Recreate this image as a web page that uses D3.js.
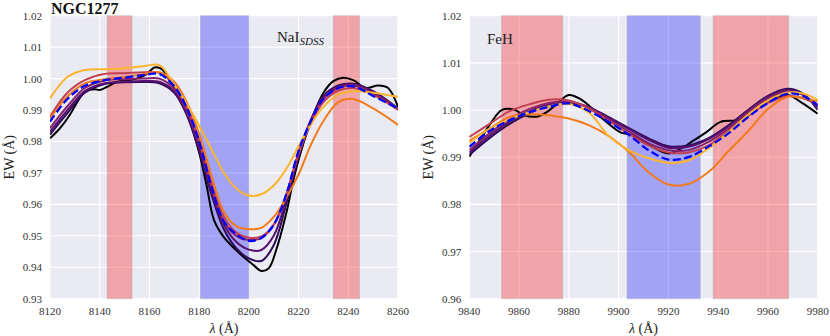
<!DOCTYPE html>
<html>
<head>
<meta charset="utf-8">
<script src="https://cdn.jsdelivr.net/npm/d3@7"></script>
<style>
  body { margin: 0; background: #fff; }
  text { font-family: "Liberation Serif", "DejaVu Serif", serif; }
</style>
</head>
<body>
<svg id="chart" width="830" height="336"></svg>
<script>
// ---- NaI (SDSS) panel ----
var naWave = [8120, 8127, 8134, 8142, 8150, 8158, 8164, 8170, 8175, 8180, 8185, 8190, 8195, 8200, 8205, 8210, 8215, 8220, 8225, 8230, 8236, 8242, 8250, 8260];
// models, darkest to lightest
var naModels = [
    [0.9822, 0.9890, 0.9955, 0.9983, 0.9988, 0.9989, 0.9985, 0.9955, 0.9885, 0.9770, 0.9630, 0.9520, 0.9460, 0.9428, 0.9420, 0.9470, 0.9600, 0.9750, 0.9868, 0.9945, 0.9978, 0.9984, 0.9960, 0.9905],
    [0.9831, 0.9900, 0.9960, 0.9985, 0.9990, 0.9992, 0.9990, 0.9960, 0.9890, 0.9780, 0.9640, 0.9535, 0.9480, 0.9456, 0.9455, 0.9500, 0.9615, 0.9760, 0.9870, 0.9942, 0.9975, 0.9982, 0.9958, 0.9905],
    [0.9842, 0.9912, 0.9970, 0.9994, 0.9998, 1.0000, 1.0000, 0.9968, 0.9898, 0.9792, 0.9652, 0.9545, 0.9500, 0.9487, 0.9493, 0.9535, 0.9630, 0.9765, 0.9865, 0.9935, 0.9970, 0.9978, 0.9952, 0.9905],
    [0.9879, 0.9955, 0.9995, 1.0015, 1.0017, 1.0020, 1.0018, 0.9980, 0.9910, 0.9805, 0.9668, 0.9560, 0.9510, 0.9494, 0.9498, 0.9535, 0.9628, 0.9760, 0.9858, 0.9925, 0.9962, 0.9970, 0.9948, 0.9900],
    [0.9873, 0.9943, 0.9985, 0.9998, 1.0005, 1.0015, 1.0020, 0.9990, 0.9925, 0.9825, 0.9690, 0.9575, 0.9530, 0.9521, 0.9525, 0.9560, 0.9620, 0.9695, 0.9790, 0.9865, 0.9925, 0.9935, 0.9905, 0.9853],
    [0.9937, 1.0005, 1.0027, 1.0030, 1.0033, 1.0040, 1.0043, 0.9980, 0.9920, 0.9850, 0.9775, 0.9700, 0.9650, 0.9628, 0.9632, 0.9660, 0.9712, 0.9785, 0.9855, 0.9910, 0.9950, 0.9960, 0.9955, 0.9942]
];
var naBest = [0.9863, 0.9935, 0.9977, 0.9995, 1.0003, 1.0012, 1.0015, 0.9975, 0.9908, 0.9800, 0.9655, 0.9545, 0.9505, 0.9484, 0.9493, 0.9535, 0.9630, 0.9770, 0.9865, 0.9935, 0.9970, 0.9975, 0.9945, 0.9905];
var naObsWave = [8120, 8124, 8128, 8131, 8134, 8138, 8140, 8143, 8147, 8152, 8156, 8159, 8162, 8165, 8168, 8172, 8176, 8180, 8183, 8186, 8190, 8196, 8202, 8205, 8208, 8211, 8215, 8218, 8222, 8226, 8230, 8234, 8238, 8242, 8247, 8252, 8256, 8260];
var naObs = [0.9810, 0.9842, 0.9885, 0.9926, 0.9958, 0.9966, 0.9964, 0.9974, 0.9990, 0.9995, 1.0003, 1.0015, 1.0035, 1.0030, 0.9995, 0.9945, 0.9870, 0.9765, 0.9660, 0.9550, 0.9495, 0.9446, 0.9406, 0.9388, 0.9397, 0.9455, 0.9570, 0.9680, 0.9795, 0.9885, 0.9955, 0.9992, 1.0003, 0.9995, 0.9970, 0.9978, 0.9970, 0.9910];
var naSide = [[8143, 8153], [8234, 8244.5]];
var naFeature = [[8180.5, 8200]];
var naTicksX = [8120, 8140, 8160, 8180, 8200, 8220, 8240, 8260];
var naTicksY = [0.93, 0.94, 0.95, 0.96, 0.97, 0.98, 0.99, 1.00, 1.01, 1.02];

// ---- FeH panel ----
var feWave = [9840, 9848, 9856, 9864, 9872, 9880, 9888, 9896, 9904, 9912, 9920, 9928, 9936, 9944, 9952, 9960, 9968, 9974, 9980];
var feModels = [
    [0.9905, 0.9940, 0.9970, 0.9993, 1.0010, 1.0015, 1.0006, 0.9985, 0.9962, 0.9940, 0.9923, 0.9925, 0.9940, 0.9967, 1.0000, 1.0030, 1.0045, 1.0035, 1.0000],
    [0.9910, 0.9945, 0.9975, 0.9997, 1.0012, 1.0017, 1.0006, 0.9983, 0.9960, 0.9937, 0.9920, 0.9922, 0.9938, 0.9965, 0.9998, 1.0028, 1.0042, 1.0033, 1.0005],
    [0.9915, 0.9950, 0.9980, 1.0002, 1.0015, 1.0018, 1.0005, 0.9980, 0.9955, 0.9930, 0.9915, 0.9915, 0.9932, 0.9960, 0.9995, 1.0025, 1.0040, 1.0032, 1.0008],
    [0.9943, 0.9970, 0.9997, 1.0012, 1.0022, 1.0020, 1.0003, 0.9977, 0.9950, 0.9925, 0.9910, 0.9910, 0.9925, 0.9955, 0.9988, 1.0015, 1.0030, 1.0025, 1.0012],
    [0.9935, 0.9960, 0.9985, 0.9991, 0.9989, 0.9982, 0.9968, 0.9945, 0.9912, 0.9868, 0.9842, 0.9843, 0.9868, 0.9912, 0.9955, 1.0002, 1.0028, 1.0026, 1.0018],
    [0.9930, 0.9960, 0.9980, 0.9995, 1.0008, 1.0013, 0.9995, 0.9945, 0.9915, 0.9898, 0.9888, 0.9893, 0.9918, 0.9952, 0.9990, 1.0020, 1.0037, 1.0035, 1.0022]
];
var feBest = [0.9922, 0.9955, 0.9978, 0.9995, 1.0007, 1.0014, 0.9998, 0.9975, 0.9948, 0.9915, 0.9895, 0.9900, 0.9922, 0.9950, 0.9985, 1.0015, 1.0035, 1.0030, 1.0010];
var feObsWave = [9840, 9845, 9849, 9853, 9858, 9862, 9867, 9871, 9875, 9880, 9885, 9890, 9895, 9901, 9906, 9911, 9916, 9920, 9925, 9930, 9935, 9941, 9947, 9951, 9956, 9962, 9968, 9974, 9980];
var feObs = [0.9901, 0.9943, 0.9975, 1.0000, 1.0001, 0.9989, 0.9986, 0.9995, 1.0012, 1.0032, 1.0022, 1.0000, 0.9975, 0.9952, 0.9947, 0.9930, 0.9915, 0.9908, 0.9918, 0.9935, 0.9952, 0.9975, 0.9978, 0.9985, 1.0003, 1.0022, 1.0032, 1.0014, 0.9992];
var feSide = [[9853, 9877.5], [9938, 9968.3]];
var feFeature = [[9903.4, 9932.8]];
var feTicksX = [9840, 9860, 9880, 9900, 9920, 9940, 9960, 9980];
var feTicksY = [0.96, 0.97, 0.98, 0.99, 1.00, 1.01, 1.02];

var modelColors = ["#2e0a5a", "#58106e", "#86216a", "#c2404f", "#f37a1b", "#fbb42e"];

var svg = d3.select("#chart");

function drawPanel(p) {
    var x = d3.scaleLinear().domain(p.xDomain).range([p.left, p.right]);
    var y = d3.scaleLinear().domain(p.yDomain).range([p.bottom, p.top]);
    var g = svg.append("g");

    g.append("rect")
        .attr("x", p.left).attr("y", p.top)
        .attr("width", p.right - p.left).attr("height", p.bottom - p.top)
        .attr("fill", "#eaeaf2");

    // grid
    g.selectAll("line.gx").data(p.ticksX).enter().append("line")
        .attr("x1", function (d) { return x(d); }).attr("x2", function (d) { return x(d); })
        .attr("y1", p.top).attr("y2", p.bottom)
        .attr("stroke", "#fff").attr("stroke-width", 1.1);
    g.selectAll("line.gy").data(p.ticksY).enter().append("line")
        .attr("y1", function (d) { return y(d); }).attr("y2", function (d) { return y(d); })
        .attr("x1", p.left).attr("x2", p.right)
        .attr("stroke", "#fff").attr("stroke-width", 1.1);

    // bands
    function band(list, col) {
        g.selectAll(null).data(list).enter().append("rect")
            .attr("x", function (d) { return x(d[0]); })
            .attr("width", function (d) { return x(d[1]) - x(d[0]); })
            .attr("y", p.top).attr("height", p.bottom - p.top)
            .attr("fill", col).attr("fill-opacity", 0.3)
            .attr("stroke", "#9a9aa8").attr("stroke-opacity", 0.35).attr("stroke-width", 1);
    }
    band(p.side, "#ff0000");
    band(p.feature, "#0000ff");

    var clipId = "clip" + Math.round(p.left);
    svg.append("clipPath").attr("id", clipId).append("rect")
        .attr("x", p.left).attr("y", p.top)
        .attr("width", p.right - p.left).attr("height", p.bottom - p.top);

    var lines = g.append("g").attr("clip-path", "url(#" + clipId + ")");
    function curve(xs, ys) {
        return d3.line()
            .x(function (d, i) { return x(xs[i]); })
            .y(function (d) { return y(d); })
            .curve(d3.curveCatmullRom.alpha(0.5))(ys);
    }

    lines.append("path").attr("d", curve(p.obsWave, p.obs))
        .attr("fill", "none").attr("stroke", "#000").attr("stroke-width", 2);
    p.models.forEach(function (m, i) {
        lines.append("path").attr("d", curve(p.wave, m))
            .attr("fill", "none").attr("stroke", modelColors[i]).attr("stroke-width", 2);
    });
    lines.append("path").attr("d", curve(p.wave, p.best))
        .attr("fill", "none").attr("stroke", "#0000ff").attr("stroke-width", 2.3)
        .attr("stroke-dasharray", "8,3.5");

    // tick labels
    g.selectAll("text.tx").data(p.ticksX).enter().append("text")
        .attr("x", function (d) { return x(d); }).attr("y", p.bottom + 16)
        .attr("text-anchor", "middle").attr("font-size", 11).attr("fill", "#333")
        .text(function (d) { return d; });
    g.selectAll("text.ty").data(p.ticksY).enter().append("text")
        .attr("x", p.left - 8).attr("y", function (d) { return y(d) + 4; })
        .attr("text-anchor", "end").attr("font-size", 11).attr("fill", "#333")
        .text(function (d) { return d3.format(".2f")(d); });

    // axis labels
    var xl = g.append("text")
        .attr("x", (p.left + p.right) / 2).attr("y", 333)
        .attr("text-anchor", "middle").attr("font-size", 14).attr("fill", "#222");
    xl.append("tspan").attr("font-style", "italic").text("λ");
    xl.append("tspan").text(" (Å)");

    g.append("text")
        .attr("transform", "translate(" + (p.left - 36) + "," + ((p.top + p.bottom) / 2) + ") rotate(-90)")
        .attr("text-anchor", "middle").attr("font-size", 14).attr("fill", "#222")
        .text("EW (Å)");

    return { x: x, y: y, g: g };
}

var left = drawPanel({
    left: 50, right: 398, top: 15.7, bottom: 298.7,
    xDomain: [8120, 8260], yDomain: [0.93, 1.02],
    ticksX: naTicksX, ticksY: naTicksY,
    side: naSide, feature: naFeature,
    wave: naWave, models: naModels, best: naBest,
    obsWave: naObsWave, obs: naObs
});

var right = drawPanel({
    left: 469.3, right: 817.7, top: 15.7, bottom: 298.7,
    xDomain: [9840, 9980], yDomain: [0.96, 1.02],
    ticksX: feTicksX, ticksY: feTicksY,
    side: feSide, feature: feFeature,
    wave: feWave, models: feModels, best: feBest,
    obsWave: feObsWave, obs: feObs
});

// titles and feature names
svg.append("text").attr("x", 51).attr("y", 14)
    .attr("font-size", 16).attr("font-weight", "bold").attr("fill", "#111")
    .text("NGC1277");

var na = left.g.append("text").attr("x", 277).attr("y", 42)
    .attr("font-size", 15).attr("fill", "#222");
na.append("tspan").text("NaI");
na.append("tspan").attr("font-size", 11).attr("font-style", "italic").attr("dy", 3).text("SDSS");

right.g.append("text").attr("x", 487).attr("y", 44)
    .attr("font-size", 15).attr("fill", "#222")
    .text("FeH");
</script>
</body>
</html>
